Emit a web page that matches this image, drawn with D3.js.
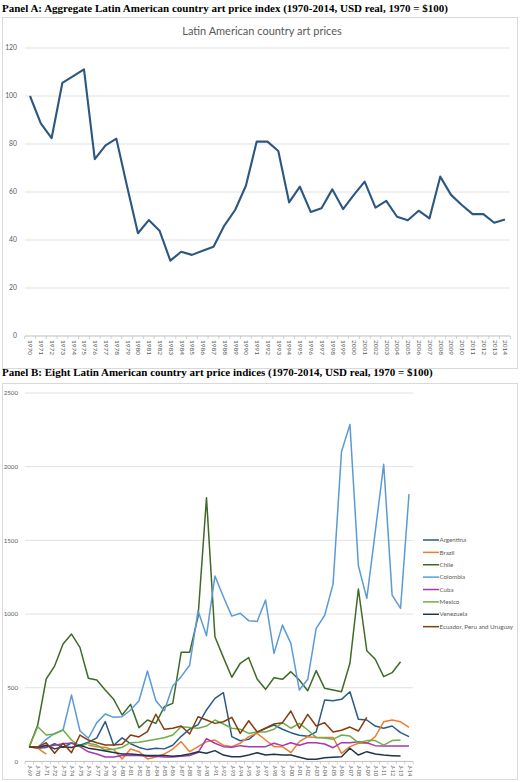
<!DOCTYPE html>
<html>
<head>
	<title>Latin American art prices</title>
	<script src="https://d3js.org/d3.v7.min.js"></script>
	<style>
		body { margin: 0; background: #fff; }
		svg text { font-family: Lato, "Open Sans", sans-serif; }
		.ptitle { font-family: "Liberation Serif", "Times New Roman", serif !important; font-weight: bold; font-size: 11px; fill: #000; }
	</style>
</head>
<body>
<script>
// ---- data ----
var years = ["1970","1971","1972","1973","1974","1975","1976","1977","1978","1979",
  "1980","1981","1982","1983","1984","1985","1986","1987","1988","1989",
  "1990","1991","1992","1993","1994","1995","1996","1997","1998","1999",
  "2000","2001","2002","2003","2004","2005","2006","2007","2008","2009",
  "2010","2011","2012","2013","2014"];
var aggregate = [100, 88.6, 82.4, 105.5, 108.3, 111.1, 73.7, 79.4, 82.2, 62.2,
  42.8, 48.3, 43.9, 31.4, 35.1, 33.8, 35.5, 37.2, 46, 52.5,
  62.6, 81, 81, 77.1, 55.7, 62.2, 51.7, 53.2, 61.1, 52.9,
  58.8, 64.3, 53.5, 56.3, 49.7, 48.2, 52.2, 49, 66.4, 58.8,
  54.6, 50.8, 50.8, 47.2, 48.5];
var aTicks = [0, 20, 40, 60, 80, 100, 120];

var months = ["J-69","J-70","J-71","J-72","J-73","J-74","J-75","J-76","J-77","J-78",
  "J-79","J-80","J-81","J-82","J-83","J-84","J-85","J-86","J-87","J-88",
  "J-89","J-90","J-91","J-92","J-93","J-94","J-95","J-96","J-97","J-98",
  "J-99","J-00","J-01","J-02","J-03","J-04","J-05","J-06","J-07","J-08",
  "J-09","J-10","J-11","J-12","J-13","J-14"];
var argentina = [100,90,95,120,95,125,110,130,160,270, 110,160,120,95,80,90,85,110,170,220,
  250,349,428,466,168,140,150,195,225,247, 218,195,178,170,200,416,412,421,473,286,
  281,240,225,240,195,168];
var brazil = [100,90,50,null,null,null,null,110,100,95, 80,16,84,66,16,30,50,84,134,66,
  100,134,145,110,100,123,168,190,145,100, 100,59,134,168,163,163,163,55,100,123,
  123,168,269,281,269,231];
var chile = [100,247,559,647,796,864,774,564,552,484, 421,315,387,229,281,258,371,394,740,740,
  982,1789,846,706,571,666,704,559,489,568, 557,609,552,480,616,496,484,473,666,1170,
  751,693,575,602,676,null];
var colombia = [100,95,150,190,213,450,208,157,263,322, 299,303,349,412,613,412,344,511,575,652,
  1022,853,1258,1117,986,1005,955,950,1095,733, 925,801,484,557,903,990,1203,2101,2287,1328,
  1106,1558,2016,1129,1039,1814];
var cuba = [100,95,100,110,120,125,100,65,50,30, 30,40,40,40,35,35,30,30,35,40,
  60,155,123,100,96,107,100,100,100,123, 107,127,109,127,127,118,93,127,127,134,
  127,107,104,104,104,104];
var mexico = [100,235,179,186,213,145,100,123,111,77, 82,96,127,130,140,150,160,179,235,230,
  225,240,281,254,225,218,190,200,200,218, 263,225,258,213,163,159,150,179,172,127,
  141,141,111,141,145,null];
var venezuela = [100,95,110,85,100,95,110,90,80,70, 60,50,50,45,40,40,40,35,40,50,
  66,55,73,43,32,32,43,59,43,48, 43,43,28,14,14,25,28,32,89,43,
  66,50,43,39,36,null];
var ecuador = [100,96,127,55,123,59,179,145,127,111, 111,116,179,166,202,320,218,225,240,186,
  303,281,258,269,299,190,276,200,225,254, 263,342,225,319,240,263,200,211,233,206,
  299,null,null,null,null,null];
var seriesNames = ["Argentina","Brazil","Chile","Colombia","Cuba","Mexico","Venezuela","Ecuador, Peru and Uruguay"];
var seriesValues = [argentina, brazil, chile, colombia, cuba, mexico, venezuela, ecuador];
var seriesColors = ["#2a5a86","#ed7d31","#3f6a27","#5b9bd5","#a23bb0","#70ad47","#1f3549","#843c0c"];
var bTicks = [0, 500, 1000, 1500, 2000, 2500];

var svg = d3.select("body").append("svg")
  .attr("width", 520)
  .attr("height", 782);

// ---- panel A ----
svg.append("text").attr("class", "ptitle")
  .attr("x", 2).attr("y", 12)
  .text("Panel A: Aggregate Latin American country art price index (1970-2014, USD real, 1970 = $100)");

svg.append("rect").attr("x", 2.5).attr("y", 17.5).attr("width", 515).attr("height", 351)
  .attr("fill", "#fff").attr("stroke", "#d9d9d9");

svg.append("text").attr("x", 262).attr("y", 34.5).attr("text-anchor", "middle")
  .attr("font-size", 11).attr("fill", "#595959")
  .text("Latin American country art prices");

var xa = d3.scalePoint().domain(years).range([30, 505]);
var ya = d3.scaleLinear().domain([0, 120]).range([336, 48]);

var ga = svg.append("g");
ga.selectAll("line.grid").data(aTicks.slice(1)).enter().append("line")
  .attr("x1", 25).attr("x2", 510)
  .attr("y1", function(d){ return ya(d); }).attr("y2", function(d){ return ya(d); })
  .attr("stroke", "#d9d9d9").attr("stroke-width", 0.8);
ga.selectAll("text.yl").data(aTicks).enter().append("text")
  .attr("x", 17).attr("y", function(d){ return ya(d) + 2.4; })
  .attr("text-anchor", "end").attr("font-size", 6.8).attr("fill", "#595959")
  .text(function(d){ return d; });

var axA = ga.append("g").attr("transform", "translate(0," + ya(0) + ")")
  .call(d3.axisBottom(xa).tickSize(0).tickPadding(4));
axA.select(".domain").attr("stroke", "#bfbfbf").attr("d", "M25,0H510");
axA.selectAll("text").attr("font-size", 6.5).attr("fill", "#595959")
  .attr("font-family", "Lato, sans-serif")
  .attr("transform", "rotate(90)").attr("text-anchor", "start")
  .attr("x", 4).attr("dy", "0.32em").attr("y", 0);
var stepA = xa.step();
ga.selectAll("line.tk").data(years.concat(["end"])).enter().append("line")
  .attr("x1", function(d, i){ return 30 + stepA * (i - 0.5); })
  .attr("x2", function(d, i){ return 30 + stepA * (i - 0.5); })
  .attr("y1", ya(0)).attr("y2", ya(0) + 3)
  .attr("stroke", "#bfbfbf").attr("stroke-width", 0.7);

ga.append("path").datum(aggregate)
  .attr("fill", "none").attr("stroke", "#2b5780").attr("stroke-width", 2.1)
  .attr("stroke-linejoin", "round")
  .attr("d", d3.line().x(function(d, i){ return xa(years[i]); }).y(function(d){ return ya(d); }));

// ---- panel B ----
svg.append("text").attr("class", "ptitle")
  .attr("x", 2).attr("y", 376)
  .text("Panel B: Eight Latin American country art price indices (1970-2014, USD real, 1970 = $100)");

svg.append("rect").attr("x", 2.5).attr("y", 383.5).attr("width", 515).attr("height", 396)
  .attr("fill", "#fff").attr("stroke", "#d9d9d9");

var xb = d3.scalePoint().domain(months).range([29.3, 409]);
var yb = d3.scaleLinear().domain([0, 2500]).range([761.4, 393]);

var gb = svg.append("g");
gb.selectAll("line.grid").data(bTicks.slice(1)).enter().append("line")
  .attr("x1", 25).attr("x2", 413)
  .attr("y1", function(d){ return yb(d); }).attr("y2", function(d){ return yb(d); })
  .attr("stroke", "#d9d9d9").attr("stroke-width", 0.8);
gb.selectAll("text.yl").data(bTicks).enter().append("text")
  .attr("x", 18).attr("y", function(d){ return yb(d) + 2.2; })
  .attr("text-anchor", "end").attr("font-size", 6.2).attr("fill", "#595959")
  .text(function(d){ return d; });

var axB = gb.append("g").attr("transform", "translate(0," + yb(0) + ")")
  .call(d3.axisBottom(xb).tickSize(0).tickPadding(4));
axB.select(".domain").attr("stroke", "#bfbfbf").attr("d", "M25,0H413");
axB.selectAll("text").attr("font-size", 5.6).attr("fill", "#595959")
  .attr("font-family", "Lato, sans-serif")
  .attr("transform", "rotate(90)").attr("text-anchor", "start")
  .attr("x", 4).attr("dy", "0.32em").attr("y", 0);
var stepB = xb.step();
gb.selectAll("line.tk").data(months.concat(["end"])).enter().append("line")
  .attr("x1", function(d, i){ return 29.3 + stepB * (i - 0.5); })
  .attr("x2", function(d, i){ return 29.3 + stepB * (i - 0.5); })
  .attr("y1", yb(0)).attr("y2", yb(0) + 3)
  .attr("stroke", "#bfbfbf").attr("stroke-width", 0.7);

var lineB = d3.line()
  .defined(function(d){ return d != null; })
  .x(function(d, i){ return xb(months[i]); })
  .y(function(d){ return yb(d); });

gb.selectAll("path.series").data(seriesValues).enter().append("path")
  .attr("fill", "none")
  .attr("stroke", function(d, i){ return seriesColors[i]; })
  .attr("stroke-width", 1.5).attr("stroke-linejoin", "round")
  .attr("d", lineB);

var leg = gb.selectAll("g.leg").data(seriesNames).enter().append("g")
  .attr("transform", function(d, i){ return "translate(423," + (540 + i * 12.38) + ")"; });
leg.append("line").attr("x1", 0).attr("x2", 16).attr("y1", 0).attr("y2", 0)
  .attr("stroke", function(d, i){ return seriesColors[i]; }).attr("stroke-width", 1.5);
leg.append("text").attr("x", 16.5).attr("y", 2.2)
  .attr("font-size", 6.2).attr("fill", "#595959")
  .text(function(d){ return d; });
</script>
</body>
</html>
